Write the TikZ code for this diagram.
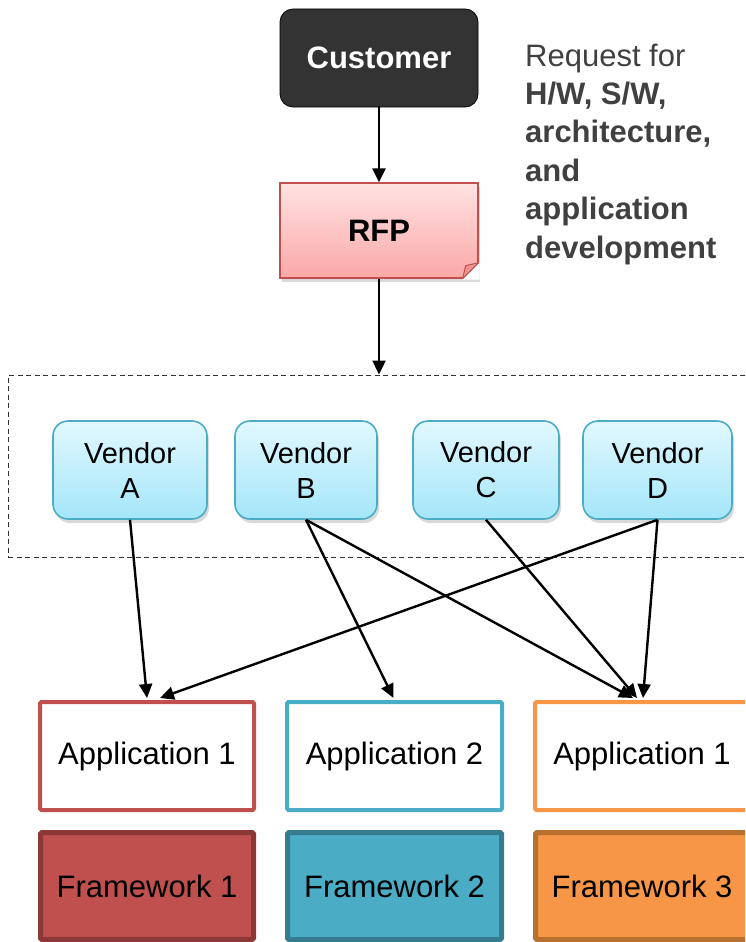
\documentclass[tikz,border=0pt]{standalone}
\usepackage{fontspec}
\setmainfont{Liberation Sans}
\usetikzlibrary{arrows.meta,shadows,calc}
\definecolor{custfill}{HTML}{333333}
\definecolor{rfptop}{HTML}{FFE2E2}
\definecolor{rfpbot}{HTML}{FBA8A8}
\definecolor{rfpline}{HTML}{C0504D}
\definecolor{vtop}{HTML}{E2F8FE}
\definecolor{vbot}{HTML}{A4E6FA}
\definecolor{vline}{HTML}{4BACC6}
\definecolor{cred}{HTML}{C0504D}
\definecolor{cblue}{HTML}{4BACC6}
\definecolor{corange}{HTML}{F79646}
\definecolor{dred}{HTML}{8C3836}
\definecolor{dblue}{HTML}{357C91}
\definecolor{dorange}{HTML}{B8702F}
\definecolor{textgray}{HTML}{404040}
\tikzset{
  bigfont/.style={font=\fontsize{31}{38}\selectfont},
  conn/.style={line width=2.4pt,-{Triangle[length=14pt,width=13pt]}},
  vendorbox/.style={rectangle,rounded corners=15pt,draw=vline,line width=1.6pt,
    top color=vtop,bottom color=vbot,minimum height=98pt,inner sep=0pt,
    align=center,font=\fontsize{29}{35}\selectfont,
    drop shadow={opacity=0.3,shadow xshift=2pt,shadow yshift=-4pt}},
  appbox/.style={rectangle,rounded corners=1.5pt,draw=#1,line width=4pt,fill=white,
    minimum width=214pt,minimum height=108pt,inner sep=0pt,bigfont},
  fwbox/.style={rectangle,rounded corners=1.5pt,line width=5pt,
    minimum width=213pt,minimum height=107pt,inner sep=0pt,bigfont},
}
\begin{document}
\begin{tikzpicture}[x=1pt,y=-1pt]
\useasboundingbox (0,0) rectangle (745,942);
\clip (0,0) rectangle (745,942);

% Customer and RFP
\node[rectangle,rounded corners=13pt,draw=black,line width=0.8pt,fill=custfill,
  minimum width=198pt,minimum height=98pt,inner sep=0pt,text=white,
  font=\fontsize{31}{38}\selectfont\bfseries] (cust) at (379,58) {Customer};
\node[rectangle,draw=rfpline,line width=1.3pt,top color=rfptop,bottom color=rfpbot,
  minimum width=198pt,minimum height=95pt,inner sep=0pt,
  font=\fontsize{31}{38}\selectfont\bfseries,
  drop shadow={opacity=0.3,shadow xshift=2pt,shadow yshift=-4pt}] (rfp) at (379,230.5) {RFP};
\fill[white] ([xshift=-17pt,yshift=-1pt]rfp.south east) -- ([xshift=1pt,yshift=17pt]rfp.south east)
  -- ([xshift=1pt,yshift=-1pt]rfp.south east) -- cycle;
\filldraw[fill=rfpbot!75!rfpline,draw=rfpline,line width=1pt,line join=round]
  ([xshift=-16pt]rfp.south east) -- ([yshift=16pt]rfp.south east)
  -- ([xshift=-13pt,yshift=13pt]rfp.south east) -- cycle;

% request text
\node[anchor=north west,inner sep=0pt,align=left,text=textgray,
  font=\fontsize{31}{38.4}\selectfont] (req) at (525,43.4)
  {Request for\\\textbf{H/W, S/W,}\\\textbf{architecture,}\\\textbf{and}\\\textbf{application}\\\textbf{development}};

% vendor group
\node[rectangle,draw=black!80,line width=1pt,dash pattern=on 5pt off 3.5pt,
  minimum width=762pt,minimum height=182pt,inner sep=0pt] (grp) at (389,466) {};
\node[vendorbox,minimum width=154pt] (va) at (130,470) {Vendor\\A};
\node[vendorbox,minimum width=142pt] (vb) at (306,470) {Vendor\\B};
\node[vendorbox,minimum width=146pt] (vc) at (486,470) {Vendor\\C};
\node[vendorbox,minimum width=149pt] (vd) at (657.5,470) {Vendor\\D};

% applications
\node[appbox=cred] (app1) at (147,756) {Application 1};
\node[appbox=cblue,minimum width=215pt] (app2) at (394.5,756) {Application 2};
\node[appbox=corange] (app3) at (642,756) {Application 1};

% frameworks
\node[fwbox,fill=cred,draw=dred] (fw1) at (147,886) {Framework 1};
\node[fwbox,fill=cblue,draw=dblue,minimum width=214pt] (fw2) at (394.5,886) {Framework 2};
\node[fwbox,fill=corange,draw=dorange] (fw3) at (642,886) {Framework 3};

% connectors
\draw[conn] (cust.south) -- (rfp.north);
\draw[conn] (rfp.south) -- (rfp.south |- grp.north);
\draw[conn] (va.south) -- ([yshift=2pt]app1.north);
\draw[conn] (vd.south) -- ([xshift=13pt,yshift=2pt]app1.north);
\draw[conn] (vb.south) -- ([xshift=-1pt,yshift=2pt]app2.north);
\draw[conn] (vb.south) -- ([xshift=-9pt,yshift=2pt]app3.north);
\draw[conn] (vc.south) -- ([xshift=-5pt,yshift=2pt]app3.north);
\draw[conn] (vd.south) -- ([xshift=1pt,yshift=2pt]app3.north);
\end{tikzpicture}
\end{document}
